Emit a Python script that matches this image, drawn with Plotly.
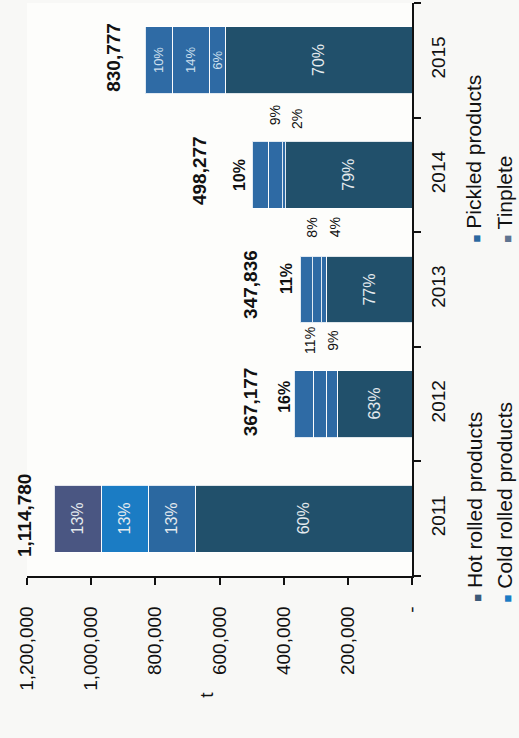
import plotly.graph_objects as go

# ---------------- data ----------------
years = ["2011", "2012", "2013", "2014", "2015"]
totals = [1114780, 367177, 347836, 498277, 830777]
series_names = ["Hot rolled products", "Pickled products", "Cold rolled products", "Tinplete"]
hot_pct = [60, 63, 77, 79, 70]
pickled_pct = [13, 9, 4, 2, 6]
cold_pct = [13, 11, 8, 9, 14]
tin_pct = [13, 16, 11, 10, 10]
value_ticks = [0, 200000, 400000, 600000, 800000, 1000000, 1200000]
value_tick_labels = ["-", "200,000", "400,000", "600,000", "800,000", "1,000,000", "1,200,000"]
axis_title = "t"

# ---------------- styles ----------------
FONT = "Liberation Sans, Arial, sans-serif"
series_colors = {
    "Hot rolled products": ["#21506b"] * 5,
    "Pickled products": ["#2b68a0", "#2e6aa4", "#2e6aa4", "#2e6aa4", "#2e6aa4"],
    "Cold rolled products": ["#1b7cc4", "#2e6aa4", "#2e6aa4", "#2e6aa4", "#2e6aa4"],
    "Tinplete": ["#4a5682", "#2f6ba5", "#2f6ba5", "#2f6ba5", "#2f6ba5"],
}
legend_colors = {"Hot rolled products": "#3d5a78", "Pickled products": "#2b68a0",
                 "Cold rolled products": "#1b7cc4", "Tinplete": "#5f7490"}

pcts = {"Hot rolled products": hot_pct, "Pickled products": pickled_pct,
        "Cold rolled products": cold_pct, "Tinplete": tin_pct}

# segment values: share of each year's total
sums = [sum(pcts[s][i] for s in series_names) for i in range(len(years))]
segments = {s: [totals[i] * pcts[s][i] / sums[i] for i in range(len(years))] for s in series_names}

fig = go.Figure()
for s in series_names:
    fig.add_trace(go.Bar(
        y=years, x=segments[s], orientation="h", name=s,
        marker=dict(color=series_colors[s], line=dict(color="rgba(255,255,255,0.85)", width=1)),
        showlegend=False, hoverinfo="skip",
    ))

# label placement: inside labels at segment centre; outside labels shifted (px)
outside = {
    ("Pickled products", "2012"): (1, 63), ("Cold rolled products", "2012"): (-10, 64),
    ("Tinplete", "2012"): (-20, 7),
    ("Pickled products", "2013"): (11, 62), ("Cold rolled products", "2013"): (-6, 62),
    ("Tinplete", "2013"): (-20, 11),
    ("Pickled products", "2014"): (13, 56), ("Cold rolled products", "2014"): (0, 60),
    ("Tinplete", "2014"): (-20, 0),
}
total_shift = {"2011": (-30, 3), "2012": (-44, 2), "2013": (-50, 5), "2014": (-52, 4), "2015": (-32, 3)}

annotations = []
for i, yr in enumerate(years):
    base = 0
    for s in series_names:
        v = segments[s][i]
        mid = base + v / 2
        base += v
        txt = f"{pcts[s][i]}%"
        if (s, yr) in outside:
            dx, dy = outside[(s, yr)]
            big = s == "Tinplete"
            annotations.append(dict(
                x=mid, y=i, xref="x", yref="y", text=f"<b>{txt}</b>" if big else txt,
                showarrow=False, textangle=-90, xshift=dx, yshift=dy,
                font=dict(family=FONT, size=16 if big else 14, color="#111")))
        else:
            small = yr == "2015" and s != "Hot rolled products"
            annotations.append(dict(
                x=mid, y=i, xref="x", yref="y", text=txt, showarrow=False, textangle=-90,
                font=dict(family=FONT, size=13 if small else 16,
                          color="#cfe0ef" if small else "#e4eaee")))
    dx, dy = total_shift[yr]
    annotations.append(dict(
        x=totals[i], y=i, xref="x", yref="y", text=f"<b>{totals[i]:,}</b>",
        showarrow=False, textangle=-90, xshift=dx, yshift=dy,
        font=dict(family=FONT, size=19, color="#111")))

# axis title (rotated)
annotations.append(dict(x=0.4675, y=-0.216, xref="paper", yref="paper", text=axis_title,
                        showarrow=False, textangle=-90,
                        font=dict(family=FONT, size=19, color="#111")))

# legend (rotated, two columns)
legend_pos = {"Hot rolled products": (1.16, -0.049), "Cold rolled products": (1.24, -0.049),
              "Pickled products": (1.16, 0.578), "Tinplete": (1.24, 0.578)}
for s in series_names:
    lx, ly = legend_pos[s]
    annotations.append(dict(
        x=lx, y=ly, xref="paper", yref="paper", xanchor="center", yanchor="bottom",
        text=f"<span style='color:{legend_colors[s]};font-size:13px'>■</span> {s}",
        showarrow=False, textangle=-90,
        font=dict(family=FONT, size=21, color="#111")))

fig.update_layout(
    width=519, height=738,
    margin=dict(l=27, r=107, t=3, b=162, autoexpand=False),
    barmode="stack", bargap=0.416,
    paper_bgcolor="#f8f8f6", plot_bgcolor="#fdfdfb",
    font=dict(family=FONT, size=19, color="#111"),
    annotations=annotations,
    xaxis=dict(range=[1200000, 0], tickvals=value_ticks, ticktext=value_tick_labels,
               tickangle=-90, ticks="outside", ticklen=7, tickwidth=1.5, tickcolor="#111",
               showline=True, linecolor="#111", linewidth=1.5, showgrid=False, zeroline=False,
               ticklabelstandoff=14, automargin=False,
               tickfont=dict(family=FONT, size=19, color="#111")),
    yaxis=dict(type="category", categoryorder="array", categoryarray=years, side="right",
               range=[-0.5, len(years) - 0.5],
               tickangle=-90, ticks="outside", ticklen=7, tickwidth=1.5, tickcolor="#111",
               tickson="boundaries", showline=True, linecolor="#111", linewidth=1.5,
               showgrid=False, zeroline=False, automargin=False, ticklabelstandoff=8,
               tickfont=dict(family=FONT, size=19, color="#111")),
)

fig.write_html("out.html", config={"displayModeBar": False},
               post_script="document.body.style.margin='0px';document.body.style.overflow='hidden';")
